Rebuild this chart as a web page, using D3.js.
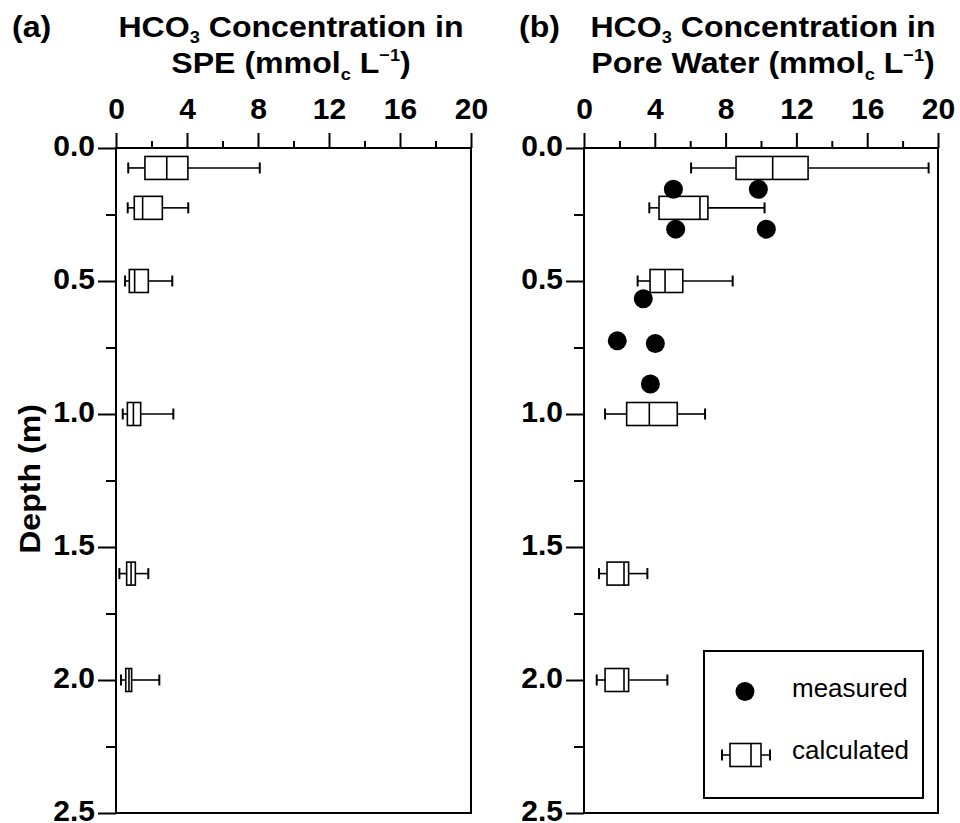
<!DOCTYPE html>
<html>
<head>
<meta charset="utf-8">
<script src="https://cdn.jsdelivr.net/npm/d3@7"></script>
<style>
  html, body { margin: 0; padding: 0; background: #fff; }
  svg { display: block; font-family: "Liberation Sans", Arial, sans-serif; }
</style>
</head>
<body>
<svg id="chart" width="960" height="823"></svg>
<script>
// Sampling depths (m) of the calculated distributions
const boxDepths = [0.075, 0.225, 0.5, 1.0, 1.6, 2.0];

// (a) HCO3 in saturated paste extract: [min, Q1, median, Q3, max]
const speMin    = [0.69, 0.66, 0.51, 0.38, 0.19, 0.28];
const speQ1     = [1.63, 1.03, 0.75, 0.64, 0.60, 0.55];
const speMedian = [2.86, 1.50, 1.05, 0.98, 0.85, 0.73];
const speQ3     = [4.05, 2.61, 1.82, 1.39, 1.09, 0.88];
const speMax    = [8.10, 4.07, 3.17, 3.23, 1.82, 2.44];

// (b) HCO3 in pore water, calculated
const pwMin    = [6.05, 3.69, 3.03, 1.19, 0.85, 0.72];
const pwQ1     = [8.59, 4.24, 3.73, 2.41, 1.30, 1.19];
const pwMedian = [10.66, 6.55, 4.58, 3.69, 2.26, 2.26];
const pwQ3     = [12.66, 7.00, 5.58, 5.27, 2.52, 2.52];
const pwMax    = [19.47, 10.20, 8.40, 6.84, 3.58, 4.71];

// (b) HCO3 in pore water, measured
const measuredDepth = [0.155, 0.155, 0.305, 0.305, 0.567, 0.725, 0.735, 0.887];
const measuredValue = [5.05, 9.85, 5.18, 10.3, 3.35, 1.88, 4.03, 3.75];

// Axis ticks
const xMajor = [0, 4, 8, 12, 16, 20];
const xMinor = [2, 6, 10, 14, 18];
const yMajor = [0, 0.5, 1.0, 1.5, 2.0, 2.5];
const yMinor = [0.25, 0.75, 1.25, 1.75, 2.25];

const svg = d3.select("#chart");

const y = d3.scaleLinear().domain([0, 2.5]).range([148, 813]);
const xa = d3.scaleLinear().domain([0, 20]).range([116, 471]);
const xb = d3.scaleLinear().domain([0, 20]).range([584, 938]);

const boxH = 23, capH = 11;
const wide = 1.07; // horizontal stretch applied to the bold headings

function panel(x, stats) {
  const g = svg.append("g");

  // top axis
  g.append("g").attr("transform", `translate(0,${y(0)})`)
    .call(d3.axisTop(x).tickValues(xMajor).tickSize(15).tickPadding(14).tickFormat(d3.format("d")));
  g.append("g").attr("transform", `translate(0,${y(0)})`)
    .call(d3.axisTop(x).tickValues(xMinor).tickSize(7).tickFormat(""));

  // left axis
  const left = g.append("g").attr("transform", `translate(${x(0)},0)`)
    .call(d3.axisLeft(y).tickValues(yMajor).tickSize(18).tickPadding(3).tickFormat(d3.format(".1f")));
  left.selectAll(".tick text").attr("dy", "0.25em");
  g.append("g").attr("transform", `translate(${x(0)},0)`)
    .call(d3.axisLeft(y).tickValues(yMinor).tickSize(10).tickFormat(""));

  g.selectAll(".domain").remove();
  g.selectAll(".tick line").attr("stroke", "#000").attr("stroke-width", 2);
  g.selectAll(".tick text").attr("fill", "#000")
    .style("font-size", "30px").style("font-weight", "bold")
    .style("font-family", "'Liberation Sans', Arial, sans-serif");

  // frame
  g.append("rect")
    .attr("x", x(0)).attr("y", y(0))
    .attr("width", x(20) - x(0)).attr("height", y(2.5) - y(0))
    .attr("fill", "none").attr("stroke", "#000").attr("stroke-width", 2);

  // box plots
  const rows = boxDepths.map((d, i) => ({
    d, min: stats[0][i], q1: stats[1][i], med: stats[2][i], q3: stats[3][i], max: stats[4][i]
  }));
  const b = g.append("g").attr("stroke", "#000").attr("stroke-width", 1.6).attr("fill", "#fff");
  const row = b.selectAll("g.box").data(rows).join("g").attr("class", "box");
  row.append("line").attr("x1", r => x(r.min)).attr("x2", r => x(r.q1))
    .attr("y1", r => y(r.d)).attr("y2", r => y(r.d));
  row.append("line").attr("x1", r => x(r.q3)).attr("x2", r => x(r.max))
    .attr("y1", r => y(r.d)).attr("y2", r => y(r.d));
  row.append("line").attr("x1", r => x(r.min)).attr("x2", r => x(r.min))
    .attr("y1", r => y(r.d) - capH / 2).attr("y2", r => y(r.d) + capH / 2).attr("stroke-width", 2);
  row.append("line").attr("x1", r => x(r.max)).attr("x2", r => x(r.max))
    .attr("y1", r => y(r.d) - capH / 2).attr("y2", r => y(r.d) + capH / 2).attr("stroke-width", 2);
  row.append("rect").attr("x", r => x(r.q1)).attr("width", r => x(r.q3) - x(r.q1))
    .attr("y", r => y(r.d) - boxH / 2).attr("height", boxH);
  row.append("line").attr("x1", r => x(r.med)).attr("x2", r => x(r.med))
    .attr("y1", r => y(r.d) - boxH / 2).attr("y2", r => y(r.d) + boxH / 2);
  return g;
}

panel(xa, [speMin, speQ1, speMedian, speQ3, speMax]);
const gb = panel(xb, [pwMin, pwQ1, pwMedian, pwQ3, pwMax]);

// measured points
gb.append("g").selectAll("circle")
  .data(measuredValue.map((v, i) => ({ v, d: measuredDepth[i] })))
  .join("circle")
  .attr("cx", p => xb(p.v)).attr("cy", p => y(p.d)).attr("r", 9.5).attr("fill", "#000");

// titles
function title(cx, label, line2a) {
  const t = svg.append("g").attr("fill", "#000").style("font-weight", "bold").style("font-size", "30px");
  t.append("text").attr("transform", `translate(${label.x},37) scale(${wide},1)`).text(label.text);
  const l1 = t.append("text").attr("transform", `translate(${cx},37) scale(${wide},1)`)
    .attr("text-anchor", "middle");
  l1.append("tspan").text("HCO");
  l1.append("tspan").attr("dy", 6).style("font-size", "17px").text("3");
  l1.append("tspan").attr("dy", -6).text(" Concentration in");
  const l2 = t.append("text").attr("transform", `translate(${cx},73) scale(${wide},1)`)
    .attr("text-anchor", "middle");
  l2.append("tspan").text(line2a + " (mmol");
  l2.append("tspan").attr("dy", 7).style("font-size", "17px").text("c");
  l2.append("tspan").attr("dy", -7).text(" L");
  l2.append("tspan").attr("dy", -12).style("font-size", "17px").text("\u22121");
  l2.append("tspan").attr("dy", 12).text(")");
}
title(291, { x: 12, text: "(a)" }, "SPE");
title(763, { x: 519, text: "(b)" }, "Pore Water");

// y axis label
svg.append("text")
  .attr("transform", `translate(40,479) rotate(-90) scale(${wide},1)`)
  .attr("text-anchor", "middle")
  .style("font-weight", "bold").style("font-size", "30px")
  .attr("fill", "#000")
  .text("Depth (m)");

// legend
const lg = svg.append("g");
lg.append("rect").attr("x", 704).attr("y", 651).attr("width", 219).attr("height", 147)
  .attr("fill", "#fff").attr("stroke", "#000").attr("stroke-width", 2);
lg.append("circle").attr("cx", 745).attr("cy", 691.5).attr("r", 9.5).attr("fill", "#000");
lg.append("text").attr("x", 792).attr("y", 697).style("font-size", "26px").attr("fill", "#000").text("measured");
const li = lg.append("g").attr("stroke", "#000").attr("stroke-width", 1.6).attr("fill", "#fff");
li.append("line").attr("x1", 722).attr("x2", 770).attr("y1", 755).attr("y2", 755);
li.append("line").attr("x1", 722).attr("x2", 722).attr("y1", 749.5).attr("y2", 760.5).attr("stroke-width", 2);
li.append("line").attr("x1", 770).attr("x2", 770).attr("y1", 749.5).attr("y2", 760.5).attr("stroke-width", 2);
li.append("rect").attr("x", 730).attr("y", 743.5).attr("width", 31).attr("height", 23);
li.append("line").attr("x1", 751).attr("x2", 751).attr("y1", 743.5).attr("y2", 766.5);
lg.append("text").attr("x", 792).attr("y", 759).style("font-size", "26px").attr("fill", "#000").text("calculated");
</script>
</body>
</html>
